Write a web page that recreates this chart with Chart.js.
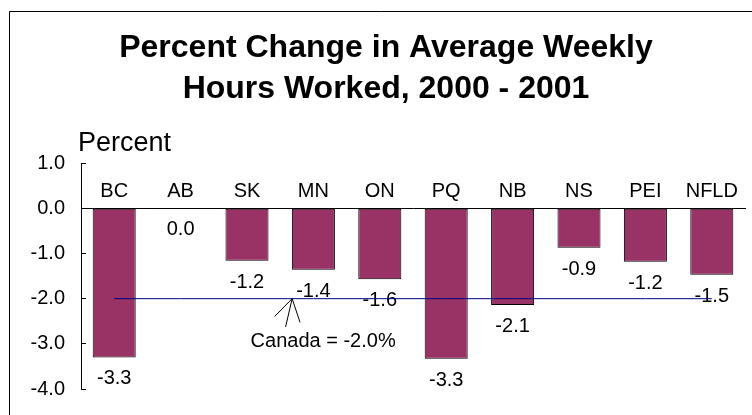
<!DOCTYPE html>
<html>
<head>
<meta charset="utf-8">
<script src="https://cdn.jsdelivr.net/npm/chart.js@4.4.1/dist/chart.umd.min.js"></script>
<style>
  html, body { margin: 0; padding: 0; background: #fff; overflow: hidden; }
  #wrap { position: relative; width: 752px; height: 415px; }
</style>
</head>
<body>
<div id="wrap"><canvas id="c" width="752" height="415"></canvas></div>
<script>
// ---- data ----
const categories = ['BC', 'AB', 'SK', 'MN', 'ON', 'PQ', 'NB', 'NS', 'PEI', 'NFLD'];
const changeValues = [-3.3, 0.0, -1.16, -1.36, -1.57, -3.33, -2.14, -0.87, -1.18, -1.47];
const canadaValue = -2.0;
const canadaSeries = categories.map(() => canadaValue);
const titleLines = ['Percent Change in Average Weekly', 'Hours Worked, 2000 - 2001'];
const yAxisLabel = 'Percent';
const canadaLabel = 'Canada = -2.0%';
const yMin = -4, yMax = 1, yStep = 1;
// annotation anchor (category index, value) where the arrow touches the Canada line
const arrowAnchor = { index: 2.68, value: canadaValue };

Chart.defaults.font.family = "'Liberation Sans', Arial, Helvetica, sans-serif";
Chart.defaults.color = '#000';

const decorPlugin = {
  id: 'decor',
  beforeDraw(chart) {
    const ctx = chart.ctx;
    ctx.save();
    ctx.strokeStyle = '#000';
    ctx.lineWidth = 1;
    ctx.beginPath();
    ctx.moveTo(9.5, chart.height);
    ctx.lineTo(9.5, 11.5);
    ctx.lineTo(chart.width, 11.5);
    ctx.stroke();
    ctx.restore();
  },
  afterDatasetDraw(chart, args) {
    if (args.index !== 0) return;
    const ctx = chart.ctx;
    ctx.save();
    ctx.fillStyle = '#000';
    ctx.font = "20px 'Liberation Sans', Arial, sans-serif";
    ctx.textAlign = 'center';
    ctx.textBaseline = 'middle';
    args.meta.data.forEach((el, i) => {
      const bottom = Math.max(el.y, el.base);
      ctx.fillText(changeValues[i].toFixed(1), el.x, bottom + 21.5);
    });
    ctx.restore();
  },
  afterDraw(chart) {
    const ctx = chart.ctx;
    const xs = chart.scales.x, ys = chart.scales.y;
    ctx.save();
    // y axis caption
    ctx.fillStyle = '#000';
    ctx.font = "27px 'Liberation Sans', Arial, sans-serif";
    ctx.textAlign = 'left';
    ctx.textBaseline = 'middle';
    ctx.fillText(yAxisLabel, chart.chartArea.left - 3, chart.chartArea.top - 20);
    // arrow
    const tx = xs.getPixelForValue(arrowAnchor.index);
    const ty = ys.getPixelForValue(arrowAnchor.value);
    const ang = Math.atan2(28.4, -6.6);
    const len = 29, wing = 25, spread = 0.55;
    ctx.strokeStyle = '#000';
    ctx.lineWidth = 1;
    ctx.beginPath();
    ctx.moveTo(tx + len * Math.cos(ang), ty + len * Math.sin(ang));
    ctx.lineTo(tx, ty);
    ctx.moveTo(tx + wing * Math.cos(ang + spread), ty + wing * Math.sin(ang + spread));
    ctx.lineTo(tx, ty);
    ctx.lineTo(tx + wing * Math.cos(ang - spread), ty + wing * Math.sin(ang - spread));
    ctx.stroke();
    // annotation text
    ctx.font = "20px 'Liberation Sans', Arial, sans-serif";
    ctx.textAlign = 'center';
    ctx.fillText(canadaLabel, tx + 31, ty + 43);
    ctx.restore();
  }
};

new Chart(document.getElementById('c'), {
  data: {
    labels: categories,
    datasets: [
      {
        type: 'bar',
        data: changeValues,
        backgroundColor: '#993366',
        borderColor: '#000',
        borderWidth: 1,
        borderSkipped: false,
        categoryPercentage: 1,
        barPercentage: 0.648,
        order: 2
      },
      {
        type: 'line',
        data: canadaSeries,
        borderColor: '#000080',
        borderWidth: 1,
        pointRadius: 0,
        fill: false,
        order: 1
      }
    ]
  },
  options: {
    responsive: false,
    devicePixelRatio: 1,
    animation: false,
    events: [],
    layout: { padding: { left: 27, right: 7, top: 0, bottom: 26 } },
    plugins: {
      legend: { display: false },
      tooltip: { enabled: false },
      title: {
        display: true,
        text: titleLines,
        color: '#000',
        font: { size: 32, weight: 'bold', lineHeight: 1.3 },
        padding: { top: 27, bottom: 53 }
      }
    },
    scales: {
      y: {
        position: 'left',
        min: yMin,
        max: yMax,
        afterFit(scale) {
          scale.width = 54;
          scale.paddingTop = 0;
          scale.paddingBottom = 0;
        },
        ticks: {
          stepSize: yStep,
          padding: 21,
          font: { size: 20 },
          color: '#000',
          callback: (v) => Number(v).toFixed(1)
        },
        grid: { drawOnChartArea: false, drawTicks: true, tickLength: -5, color: '#000' },
        border: { display: true, color: '#000', width: 1 }
      },
      x: {
        type: 'category',
        position: { y: 0 },
        offset: true,
        grid: { display: false, drawTicks: false },
        border: { display: true, color: '#000', width: 1 },
        ticks: { padding: -29, font: { size: 20 }, color: '#000', autoSkip: false, maxRotation: 0 }
      }
    }
  },
  plugins: [decorPlugin]
});
</script>
</body>
</html>
